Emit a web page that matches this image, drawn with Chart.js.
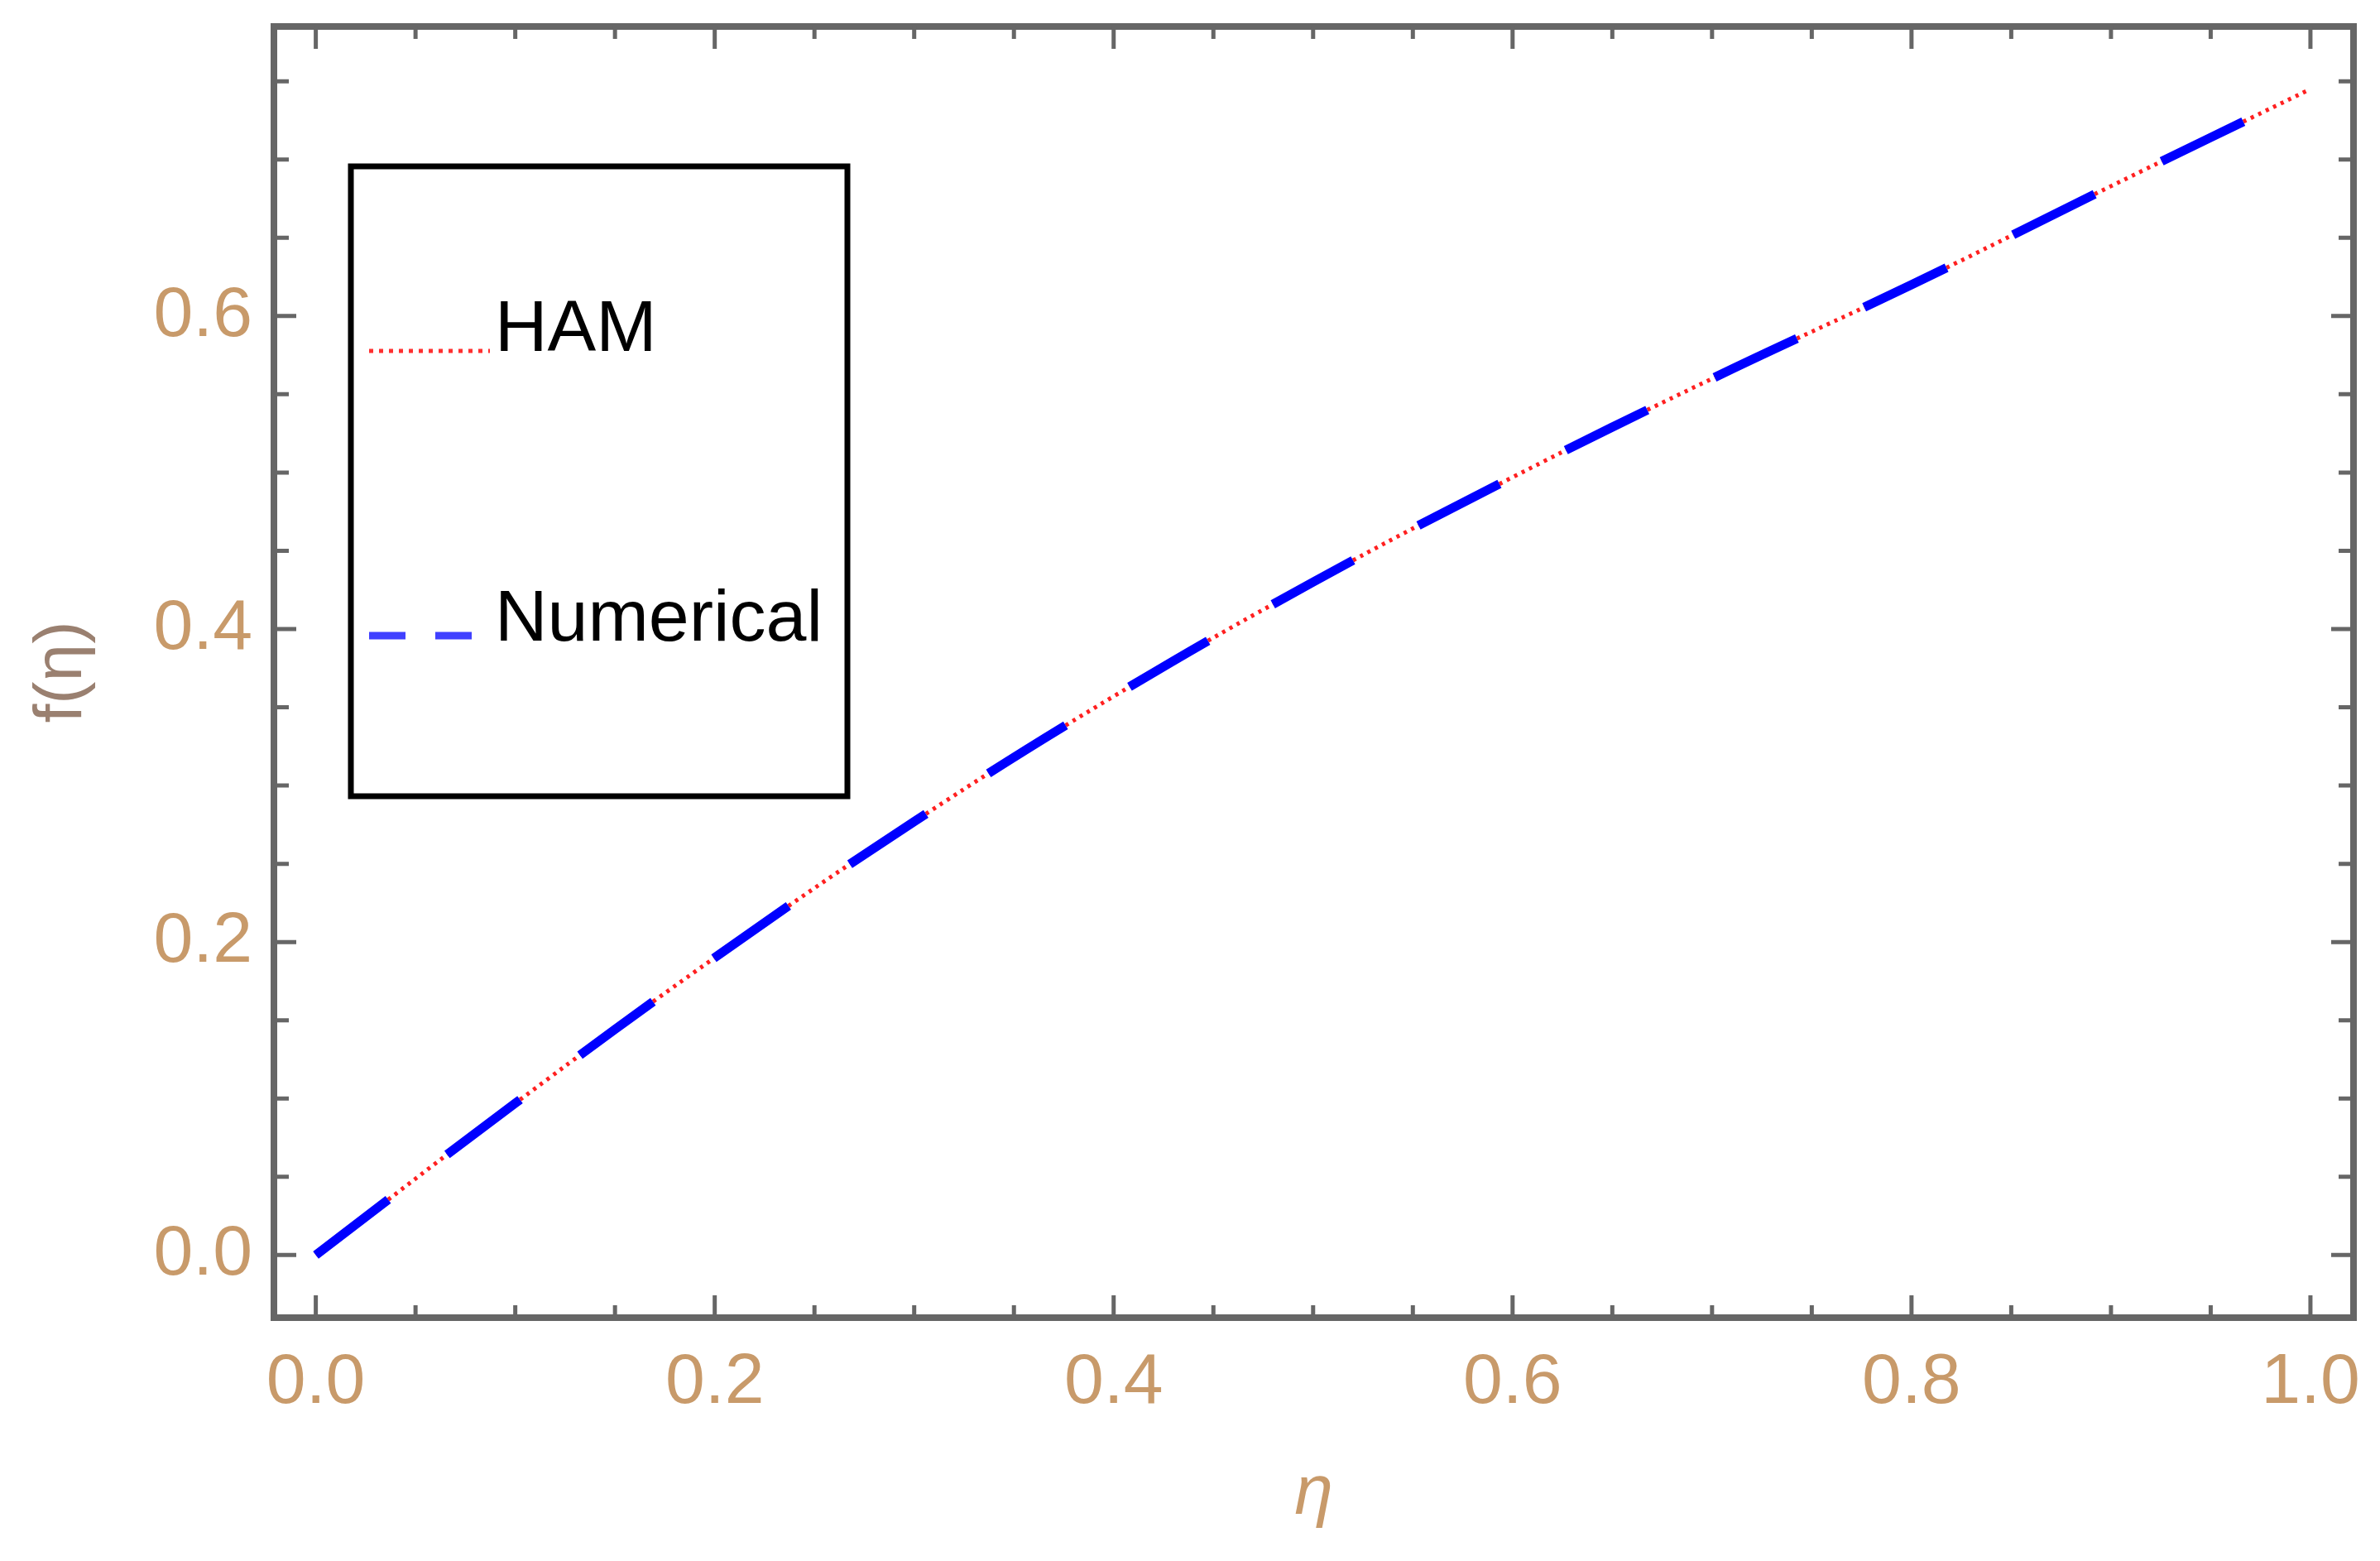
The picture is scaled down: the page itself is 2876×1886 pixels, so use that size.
<!DOCTYPE html>
<html><head><meta charset="utf-8">
<script src="https://cdn.jsdelivr.net/npm/chart.js@4/dist/chart.umd.min.js"></script>
<style>html,body{margin:0;padding:0;background:#fff}#wrap{width:2876px;height:1886px}</style>
</head><body><div id="wrap"><canvas id="c" width="2876" height="1886"></canvas></div>
<script>
const etaValues = [0, 0.1, 0.2, 0.3, 0.4, 0.5, 0.6, 0.7, 0.8, 0.9, 1.0];
const hamValues = [0, 0.097, 0.19, 0.277, 0.357, 0.43, 0.497, 0.56, 0.62, 0.683, 0.745];
const numericalValues = [0, 0.097, 0.19, 0.277, 0.357, 0.43, 0.497, 0.56, 0.62, 0.683, 0.745];
const xTickValues = [0, 0.2, 0.4, 0.6, 0.8, 1.0];
const yTickValues = [0, 0.2, 0.4, 0.6];
const seriesNames = ['HAM', 'Numerical'];

const tickColor = '#c89a6a';
const frameColor = '#666666';
const FONT = '"Liberation Sans", Arial, sans-serif';

const pts = (ys) => etaValues.map((x, i) => ({x, y: ys[i]}));

const framePlugin = {
  id: 'frame',
  afterDatasetsDraw(chart) {
    const {ctx, chartArea: a, scales: {x, y}} = chart;
    ctx.save();
    ctx.strokeStyle = frameColor;
    ctx.lineWidth = 8;
    ctx.strokeRect(a.left, a.top, a.right - a.left, a.bottom - a.top);
    ctx.lineWidth = 5;
    for (let k = 0; k <= 20; k++) {
      const v = k * 0.05;
      const len = k % 4 === 0 ? 27 : 15;
      const px = x.getPixelForValue(v);
      ctx.beginPath();
      ctx.moveTo(px, a.bottom); ctx.lineTo(px, a.bottom - len);
      ctx.moveTo(px, a.top); ctx.lineTo(px, a.top + len);
      ctx.stroke();
    }
    for (let k = 0; k <= 15; k++) {
      const v = k * 0.05;
      const len = k % 4 === 0 ? 27 : 18;
      const py = y.getPixelForValue(v);
      if (py < a.top || py > a.bottom) continue;
      ctx.beginPath();
      ctx.moveTo(a.left, py); ctx.lineTo(a.left + len, py);
      ctx.moveTo(a.right, py); ctx.lineTo(a.right - len, py);
      ctx.stroke();
    }
    // legend box
    ctx.strokeStyle = '#000';
    ctx.lineWidth = 7;
    ctx.strokeRect(424, 201, 1024 - 424, 962 - 201);
    ctx.font = '88px ' + FONT;
    ctx.fillStyle = '#000';
    ctx.textBaseline = 'middle';
    ctx.fillText(seriesNames[0], 598, 400);
    ctx.fillText(seriesNames[1], 598, 750);
    ctx.strokeStyle = '#ff3030';
    ctx.lineWidth = 5;
    ctx.setLineDash([5, 7]);
    ctx.beginPath(); ctx.moveTo(446, 424); ctx.lineTo(592, 424); ctx.stroke();
    ctx.strokeStyle = '#4040ff';
    ctx.lineWidth = 9;
    ctx.setLineDash([44, 36]);
    ctx.beginPath(); ctx.moveTo(446, 768); ctx.lineTo(570, 768); ctx.stroke();
    ctx.restore();
  }
};

new Chart(document.getElementById('c'), {
  type: 'scatter',
  data: {
    datasets: [
      {label: seriesNames[1], data: pts(numericalValues), showLine: true, borderColor: '#0000ff',
       borderWidth: 11, borderDash: [110, 90], pointRadius: 0, tension: 0.4, order: 1},
      {label: seriesNames[0], data: pts(hamValues), showLine: true, borderColor: '#ff2020',
       borderWidth: 5, borderDash: [4, 6], pointRadius: 0, tension: 0.4, order: 2}
    ]
  },
  options: {
    responsive: false, animation: false, devicePixelRatio: 1,
    layout: {padding: {top: 32, right: 32, left: 0, bottom: 0}},
    plugins: {legend: {display: false}, tooltip: {enabled: false}},
    scales: {
      x: {
        type: 'linear', min: -0.021, max: 1.0216,
        afterBuildTicks: s => { s.ticks = xTickValues.map(v => ({value: v})); },
        afterFit: s => { s.height = 294; },
        grid: {display: false}, border: {display: false},
        ticks: {color: tickColor, padding: 20, font: {size: 86, family: FONT},
                callback: v => v.toFixed(1), maxRotation: 0, autoSkip: false},
        title: {display: true, text: 'η', color: tickColor, padding: {top: 0, bottom: 30},
                font: {size: 84, style: 'italic', family: FONT}}
      },
      y: {
        type: 'linear', min: -0.040, max: 0.785,
        afterBuildTicks: s => { s.ticks = yTickValues.map(v => ({value: v})); },
        afterFit: s => { s.width = 331; },
        grid: {display: false}, border: {display: false},
        ticks: {color: tickColor, padding: 18, font: {size: 86, family: FONT, lineHeight: 0.01},
                callback: v => v.toFixed(1), autoSkip: false},
        title: {display: true, text: 'f(η)', color: '#9a8070', padding: {top: 26, bottom: 0},
                font: {size: 82, family: FONT}}
      }
    }
  },
  plugins: [framePlugin]
});
</script></body></html>
